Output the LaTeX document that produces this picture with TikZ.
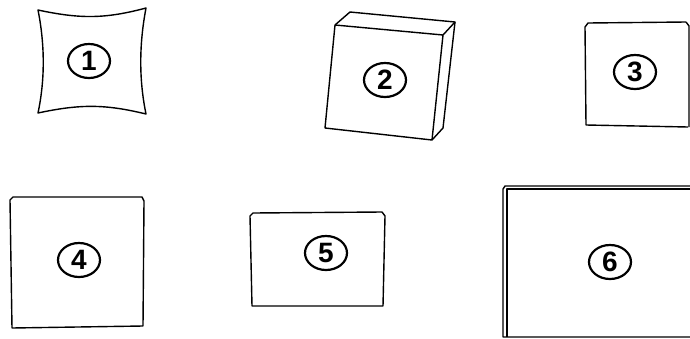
\documentclass[tikz,border=0pt]{standalone}
\usepackage{fontspec}
\setmainfont{Liberation Sans}
\usetikzlibrary{shapes.geometric}
\tikzset{
	outline/.style ={line width=0.7pt, line join=round},
	numtag/.style  ={ellipse, draw=black, line width=1.1pt, minimum width=21pt, minimum height=17pt, inner sep=0pt, font=\fontsize{14}{14}\selectfont\bfseries},
}
\begin{document}
\begin{tikzpicture}[x=0.5pt, y=-0.5pt]
	\useasboundingbox (0,0) rectangle (690,338);
	% 1: pincushion
	\draw[outline] (38,10) .. controls (80,19) and (105,19) .. (146,8)
		.. controls (139,45) and (139,80) .. (146,114)
		.. controls (105,104) and (80,104) .. (38,113)
		.. controls (45,80) and (45,45) .. cycle;
	\node[numtag] (n1) at (89,61) {1};
	% 2: tilted block
	\draw[outline] (335,25) -- (443,35) -- (432,140) -- (325,128) -- cycle;
	\draw[outline] (335,25) -- (350,12) -- (455,22) -- (443,128) -- (432,140);
	\draw[outline] (443,35) -- (455,22);
	\node[numtag] (n2) at (385,80) {2};
	% 3: square cut at the right
	\draw[outline] (686,22) -- (588,23) -- (585,27) -- (586,125) -- (688,127);
	\draw[outline] (686,22) -- (689,26) -- (689,127);
	\node[numtag] (n3) at (635,72) {3};
	% 4
	\draw[outline] (13,197) -- (142,197) -- (144,201) -- (143,326) -- (12,328) -- (10,200) -- cycle;
	\node[numtag] (n4) at (79,260) {4};
	% 5
	\draw[outline] (253,213) -- (382,212) -- (385,216) -- (383,306) -- (252,306) -- (250,216) -- cycle;
	\node[numtag] (n5) at (326,253) {5};
	% 6: double-lined frame
	\draw[outline] (690,186) -- (505,186) -- (503,189) -- (503,337) -- (690,337);
	\draw[outline] (690,189) -- (507,189) -- (507,337);
	\node[numtag] (n6) at (610,262) {6};
\end{tikzpicture}
\end{document}
